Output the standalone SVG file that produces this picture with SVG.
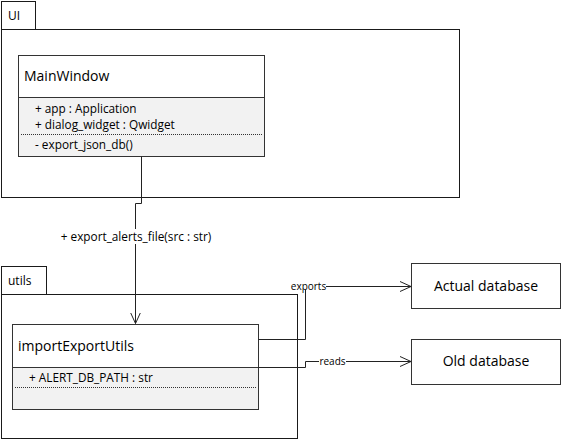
<svg xmlns="http://www.w3.org/2000/svg" width="564" height="441" viewBox="0 0 564 441">
<defs>
<style>
.pkg{fill:#fff;stroke:#1a1a1a;stroke-width:1}
.box{fill:#fff;stroke:#333;stroke-width:1}
.comp{fill:#f2f2f2;stroke:#333;stroke-width:1}
.dot{stroke:#333;stroke-width:1;stroke-dasharray:1,1}
.t{font-family:"Segoe UI","Open Sans","DejaVu Sans",sans-serif;fill:#000}
.title{font-size:14px}
.attr{font-size:11.8px}
.lbl{font-size:10px}
.conn{fill:none;stroke:#222;stroke-width:1}
</style>
<marker id="open" viewBox="0 0 12 12" refX="11" refY="6" markerWidth="12" markerHeight="12" markerUnits="userSpaceOnUse" orient="auto">
<path d="M0,1 L11,6 L0,11" fill="none" stroke="#222" stroke-width="1"/>
</marker>
</defs>
<rect width="564" height="441" fill="#fff"/>
<g id="pkg-ui">
<rect class="pkg" x="1.5" y="1.5" width="34" height="28"/>
<rect class="pkg" x="1.5" y="29.5" width="458" height="168"/>
<text class="t" x="8" y="20" font-size="12">UI</text>
</g>
<g id="pkg-utils">
<rect class="pkg" x="1.5" y="266.5" width="45" height="28"/>
<rect class="pkg" x="1.5" y="294.5" width="296" height="144"/>
<text class="t" x="8" y="285" font-size="12">utils</text>
</g>
<g id="MainWindow">
<rect class="box" x="18.5" y="55.5" width="246" height="42"/>
<rect class="comp" x="18.5" y="97.5" width="246" height="59"/>
<line class="dot" x1="21" y1="134.5" x2="262" y2="134.5"/>
<text class="t title" x="24" y="81">MainWindow</text>
<text class="t attr" x="35" y="113">+ app : Application</text>
<text class="t attr" x="35" y="129">+ dialog_widget : Qwidget</text>
<text class="t attr" x="35" y="149">- export_json_db()</text>
</g>
<g id="importExportUtils">
<rect class="box" x="12.5" y="324.5" width="246" height="43"/>
<rect class="comp" x="12.5" y="367.5" width="246" height="42"/>
<line class="dot" x1="15" y1="387.5" x2="256" y2="387.5"/>
<text class="t title" x="18" y="351">importExportUtils</text>
<text class="t attr" x="29" y="382">+ ALERT_DB_PATH : str</text>
</g>
<g id="ActualDatabase">
<rect class="box" x="411.5" y="263.5" width="149" height="45"/>
<text class="t" x="486" y="291" font-size="14" text-anchor="middle">Actual database</text>
</g>
<g id="OldDatabase">
<rect class="box" x="411.5" y="339.5" width="149" height="45"/>
<text class="t" x="486" y="366" font-size="14" text-anchor="middle">Old database</text>
</g>
<g id="connectors">
<path class="conn" d="M141.5,156.5 V203.5 H135.5 V323.5" marker-end="url(#open)"/>
<rect x="57" y="229" width="158" height="15" fill="#fff"/>
<text class="t attr" x="136" y="241" font-size="12" text-anchor="middle">+ export_alerts_file(src : str)</text>
<path class="conn" d="M258.5,339.5 H305.5 V286.5 H411" marker-end="url(#open)"/>
<rect x="291" y="281" width="35" height="9" fill="#fff"/>
<text class="t lbl" x="308.5" y="289.5" text-anchor="middle">exports</text>
<path class="conn" d="M258.5,367.5 H305.5 V361.5 H411" marker-end="url(#open)"/>
<rect x="319" y="356" width="27" height="9" fill="#fff"/>
<text class="t lbl" x="332.5" y="364.5" text-anchor="middle">reads</text>
</g>
</svg>
